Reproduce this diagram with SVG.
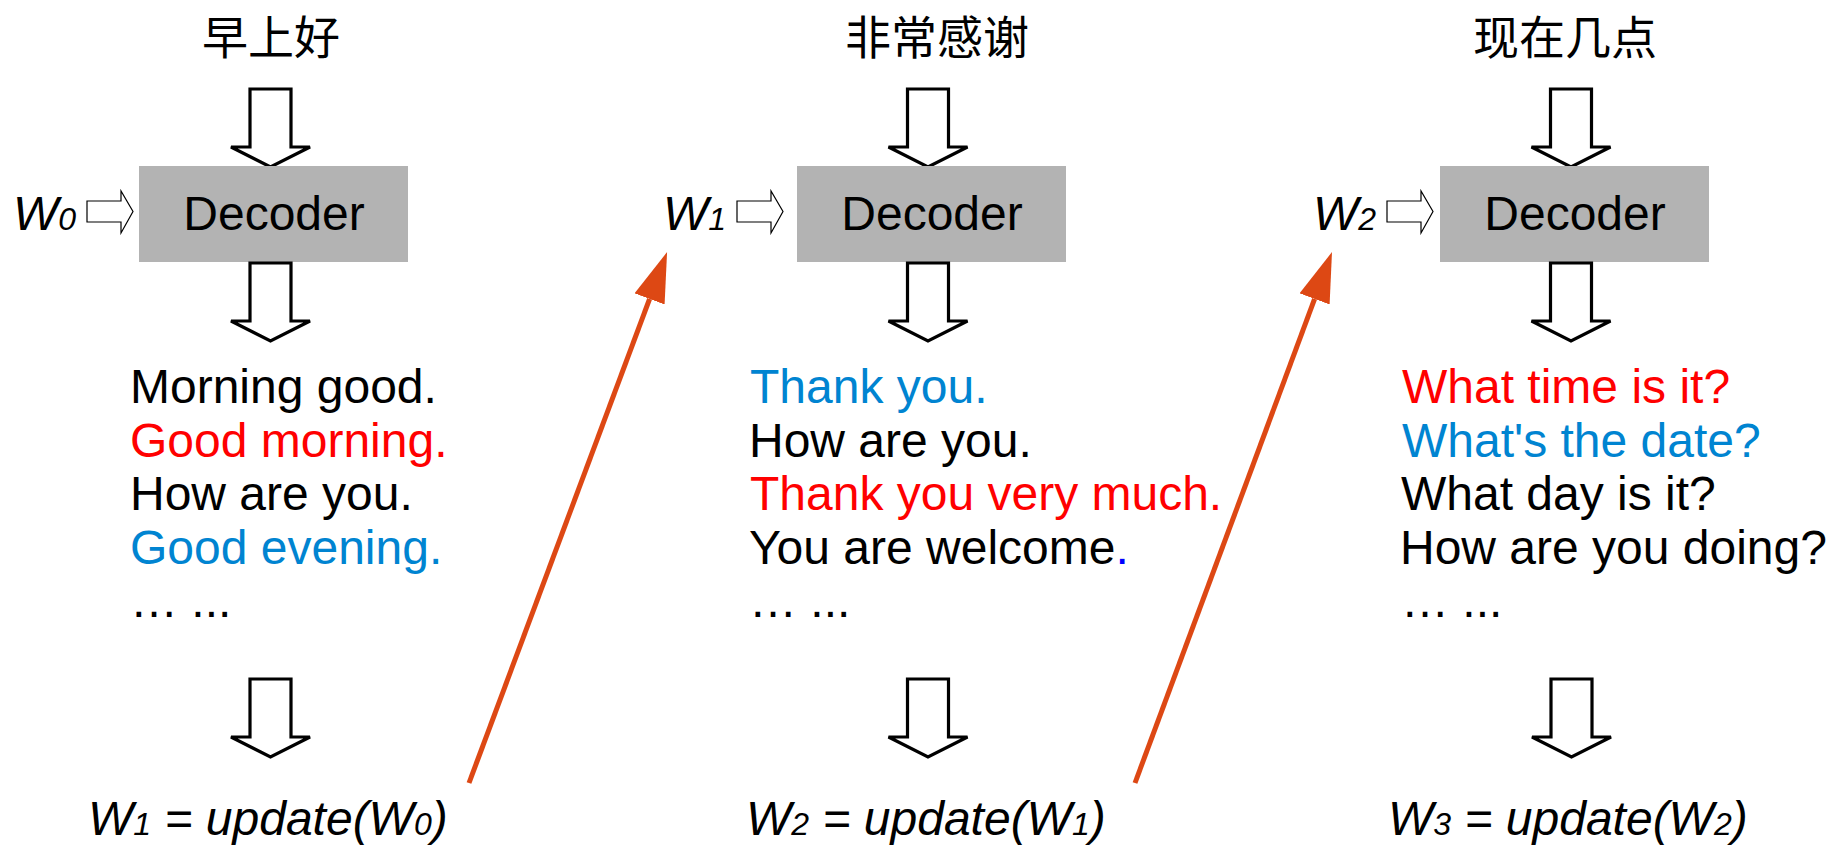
<svg xmlns="http://www.w3.org/2000/svg" width="1843" height="846" viewBox="0 0 1843 846">
<style>
.t{font-family:"Liberation Sans",Arial,sans-serif;font-size:48px;fill:#000}
.cjk{font-family:"Noto Sans CJK SC",sans-serif;font-size:46px;fill:#000;text-anchor:middle}
.it{font-family:"Liberation Sans",Arial,sans-serif;font-size:48px;font-style:italic;fill:#000}
.sub{font-size:32px}
.red{fill:#ff0000}
.blue{fill:#0084d1}
.box{fill:#b3b3b3}
.big{fill:#fff;stroke:#000;stroke-width:3.2;stroke-linejoin:miter}
.small{fill:#fff;stroke:#000;stroke-width:1.2}
.conn{stroke:#dd4814;stroke-width:5;fill:none}
</style>
<defs>
<marker id="ah" markerUnits="userSpaceOnUse" markerWidth="50" markerHeight="32" viewBox="0 0 50 32" refX="0" refY="16" orient="auto">
<path d="M0,0 L50,16 L0,32 z" fill="#dd4814"/>
</marker>
<path id="down" d="M-20.5,0 H20.5 V58 H39.5 L0,78 L-39.5,58 H-20.5 Z"/>
<path id="right" d="M0,-10.5 H34 V-20.5 L46,0 L34,21.5 V10.5 H0 Z"/>
</defs>
<rect width="1843" height="846" fill="#fff"/>

<g id="col1">
<text class="cjk" x="271" y="54">早上好</text>
<use href="#down" class="big" x="270.5" y="89"/>
<text class="it" x="13" y="230">W<tspan class="sub">0</tspan></text>
<use href="#right" class="small" x="87" y="211.5"/>
<rect class="box" x="139" y="166" width="269" height="96"/>
<text class="t" x="274" y="230" text-anchor="middle">Decoder</text>
<use href="#down" class="big" x="270.5" y="263"/>
<text class="t" x="130" y="403">Morning good.</text>
<text class="t red" x="130" y="456.5">Good morning.</text>
<text class="t" x="130" y="510">How are you.</text>
<text class="t blue" x="130" y="563.5">Good evening.</text>
<text class="t" x="130" y="617">… ...</text>
<use href="#down" class="big" x="270.5" y="679"/>
<text class="it" x="88" y="835">W<tspan class="sub">1</tspan> = update(W<tspan class="sub">0</tspan>)</text>
</g>

<g id="col2">
<text class="cjk" x="937" y="54">非常感谢</text>
<use href="#down" class="big" x="928" y="89"/>
<text class="it" x="663" y="230">W<tspan class="sub">1</tspan></text>
<use href="#right" class="small" x="737" y="211.5"/>
<rect class="box" x="797" y="166" width="269" height="96"/>
<text class="t" x="932" y="230" text-anchor="middle">Decoder</text>
<use href="#down" class="big" x="928" y="263"/>
<text class="t blue" x="750" y="403">Thank you.</text>
<text class="t" x="749" y="456.5">How are you.</text>
<text class="t red" x="750" y="510">Thank you very much.</text>
<text class="t" x="749" y="563.5">You are welcome<tspan fill="#0000ff">.</tspan></text>
<text class="t" x="749" y="617">… ...</text>
<use href="#down" class="big" x="928" y="679"/>
<text class="it" x="746" y="835">W<tspan class="sub">2</tspan> = update(W<tspan class="sub">1</tspan>)</text>
</g>

<g id="col3">
<text class="cjk" x="1565" y="54">现在几点</text>
<use href="#down" class="big" x="1571" y="89"/>
<text class="it" x="1313" y="230">W<tspan class="sub">2</tspan></text>
<use href="#right" class="small" x="1387" y="211.5"/>
<rect class="box" x="1440" y="166" width="269" height="96"/>
<text class="t" x="1575" y="230" text-anchor="middle">Decoder</text>
<use href="#down" class="big" x="1571" y="263"/>
<text class="t red" x="1402" y="403">What time is it?</text>
<text class="t blue" x="1402" y="456.5">What's the date?</text>
<text class="t" x="1401" y="510">What day is it?</text>
<text class="t" x="1400" y="563.5">How are you doing?</text>
<text class="t" x="1401" y="617">… ...</text>
<use href="#down" class="big" x="1571.5" y="679"/>
<text class="it" x="1388" y="835">W<tspan class="sub">3</tspan> = update(W<tspan class="sub">2</tspan>)</text>
</g>

<g id="connectors">
<line class="conn" x1="469" y1="783" x2="649.6" y2="298.9" marker-end="url(#ah)"/>
<line class="conn" x1="1135" y1="783" x2="1314.6" y2="298.9" marker-end="url(#ah)"/>
</g>
</svg>
